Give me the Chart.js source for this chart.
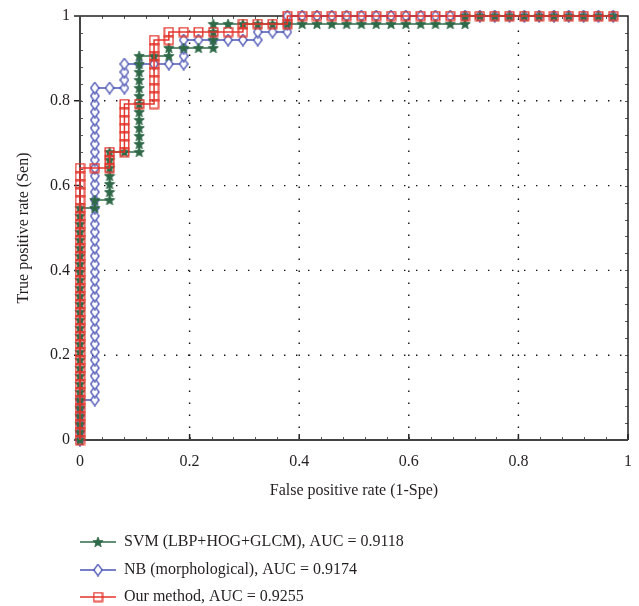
<!DOCTYPE html>
<html>
<head>
<meta charset="utf-8">
<script src="https://cdn.jsdelivr.net/npm/chart.js@4.4.1/dist/chart.umd.min.js"></script>
<style>
  html, body { margin: 0; padding: 0; background: #fff; }
  #wrap { width: 639px; height: 606px; }
</style>
</head>
<body>
<div id="wrap"><canvas id="roc" width="639" height="606"></canvas></div>
<script>
// ROC points as counts: false positives out of nNeg, true positives out of nPos
const nNeg = 37
const nPos = 53

const legendNames = ["SVM (LBP+HOG+GLCM), AUC = 0.9118",
                     "NB (morphological), AUC = 0.9174",
                     "Our method, AUC = 0.9255"]

const svmFp = [0,0,0,0,0, 0,0,0,0,0, 0,0,0,0,0, 0,0,0,0,0, 0,0,0,0,0, 0,0,0,0,0,
  1,1,2,2,2,2,2,2,2,3,4,
  4,4,4,4,4,4,4,4,4,4,4,4,
  5,6,6,7,8,9,9,9,9,
  10,11,12,13,14,15,16,17,18,19,20,21,22,23,24,25,26,26,
  27,28,29,30,31,32,33,34,35,36]
const svmTp = [0,1,2,3,4,5,6,7,8,9,10,11,12,13,14,15,16,17,18,19,20,21,22,23,24,25,26,27,28,29,
  29,30,30,31,32,33,34,35,36,36,36,
  37,38,39,40,41,42,43,44,45,46,47,48,
  48,48,49,49,49,49,50,51,52,
  52,52,52,52,52,52,52,52,52,52,52,52,52,52,52,52,52,53,
  53,53,53,53,53,53,53,53,53,53]

const nbFp = [0,0,0,0,0,0,
  1,1,1,1,1,1,1,1,1,1, 1,1,1,1,1,1,1,1,1,1, 1,1,1,1,1,1,1,1,1,1, 1,1,1,1,1,1,1,1,1,1,
  2,3,3,3,3,4,5,6,7,7,7,7,8,9,10,11,12,12,13,14,14,14,
  15,16,17,18,19,20,21,22,23,24,25,26,27,28,29,30,31,32,33,34,35,36]
const nbTp = [0,1,2,3,4,5,
  5,6,7,8,9,10,11,12,13,14,15,16,17,18,19,20,21,22,23,24,25,26,27,28,29,30,31,32,33,34,35,36,37,38,39,40,41,42,43,44,
  44,44,45,46,47,47,47,47,47,48,49,50,50,50,50,50,50,51,51,51,52,53,
  53,53,53,53,53,53,53,53,53,53,53,53,53,53,53,53,53,53,53,53,53,53]

const oursFp = [0,0,0,0,0, 0,0,0,0,0, 0,0,0,0,0, 0,0,0,0,0, 0,0,0,0,0, 0,0,0,0,0, 0,0,0,0,0,
  1,2,2,2,3,3,3,3,3,3,3,4,5,5,5,5,5,5,5,5,5,6,6,7,8,9,10,11,11,12,13,14,14,
  15,16,17,18,19,20,21,22,23,24,25,26,27,28,29,30,31,32,33,34,35,36]
const oursTp = [0,1,2,3,4,5,6,7,8,9,10,11,12,13,14,15,16,17,18,19,20,21,22,23,24,25,26,27,28,29,30,31,32,33,34,
  34,34,35,36,36,37,38,39,40,41,42,42,42,43,44,45,46,47,48,49,50,50,51,51,51,51,51,51,52,52,52,52,53,
  53,53,53,53,53,53,53,53,53,53,53,53,53,53,53,53,53,53,53,53,53,53]

const tickValues = [0, 0.2, 0.4, 0.6, 0.8, 1]
const tickLabels = ["0", "0.2", "0.4", "0.6", "0.8", "1"]

const green = "#2f6a48"
const blue = "#4b55b4"
const red = "#e3342b"
const serif = "'Liberation Serif', 'DejaVu Serif', serif"

function toPoints(fp, tp) {
    return fp.map((f, i) => ({ x: f / nNeg, y: tp[i] / nPos }))
}

// marker images
function starMarker() {
    const c = document.createElement("canvas")
    c.width = 12; c.height = 12
    const g = c.getContext("2d")
    g.beginPath()
    for (let i = 0; i < 10; i++) {
        const r = i % 2 === 0 ? 5.4 : 2.4
        const a = -Math.PI / 2 + i * Math.PI / 5
        const px = 6 + r * Math.cos(a), py = 6.4 + r * Math.sin(a)
        if (i === 0) g.moveTo(px, py); else g.lineTo(px, py)
    }
    g.closePath()
    g.fillStyle = green
    g.fill()
    g.strokeStyle = green
    g.lineWidth = 0.8
    g.stroke()
    return c
}
function diamondMarker() {
    const c = document.createElement("canvas")
    c.width = 10; c.height = 13
    const g = c.getContext("2d")
    g.beginPath()
    g.moveTo(5, 0.8); g.lineTo(9.2, 6.5); g.lineTo(5, 12.2); g.lineTo(0.8, 6.5)
    g.closePath()
    g.fillStyle = "#fff"
    g.fill()
    g.strokeStyle = blue
    g.lineWidth = 1.3
    g.stroke()
    return c
}
function squareMarker() {
    const c = document.createElement("canvas")
    c.width = 11; c.height = 11
    const g = c.getContext("2d")
    g.strokeStyle = red
    g.lineWidth = 1.4
    g.strokeRect(1.2, 1.2, 8.6, 8.6)
    return c
}
const markers = [starMarker(), diamondMarker(), squareMarker()]
const colors = [green, blue, red]

const framePlugin = {
    id: "frame",
    beforeDatasetsDraw(chart) {
        const { ctx, chartArea: a, scales: { x, y } } = chart
        ctx.save()
        // dotted grid
        ctx.strokeStyle = "#111"
        ctx.lineWidth = 1.4
        ctx.setLineDash([1.4, 10.6])
        for (const v of [0.2, 0.4, 0.6, 0.8]) {
            const px = x.getPixelForValue(v)
            ctx.beginPath(); ctx.moveTo(px, a.bottom); ctx.lineTo(px, a.top); ctx.stroke()
            const py = y.getPixelForValue(v)
            ctx.beginPath(); ctx.moveTo(a.left, py); ctx.lineTo(a.right, py); ctx.stroke()
        }
        ctx.setLineDash([])
        // minor ticks
        ctx.strokeStyle = "#555"
        ctx.lineWidth = 1
        for (let i = 1; i < 25; i++) {
            const v = i * 0.04
            const px = Math.round(x.getPixelForValue(v)) + 0.5
            const py = Math.round(y.getPixelForValue(v)) + 0.5
            ctx.beginPath()
            ctx.moveTo(px, a.bottom); ctx.lineTo(px, a.bottom - 3)
            ctx.moveTo(px, a.top); ctx.lineTo(px, a.top + 3)
            ctx.moveTo(a.left, py); ctx.lineTo(a.left + 3, py)
            ctx.moveTo(a.right, py); ctx.lineTo(a.right - 3, py)
            ctx.stroke()
        }
        // major ticks
        ctx.strokeStyle = "#222"
        ctx.lineWidth = 1.5
        for (const v of tickValues) {
            const px = x.getPixelForValue(v)
            const py = y.getPixelForValue(v)
            ctx.beginPath()
            ctx.moveTo(px, a.bottom); ctx.lineTo(px, a.bottom - 6)
            ctx.moveTo(a.left, py); ctx.lineTo(a.left - 6, py)
            ctx.stroke()
        }
        // box
        ctx.strokeStyle = "#222"
        ctx.lineWidth = 1.5
        ctx.beginPath()
        ctx.moveTo(a.left, a.top); ctx.lineTo(a.right, a.top); ctx.lineTo(a.right, a.bottom)
        ctx.stroke()
        ctx.strokeStyle = "#444"
        ctx.lineWidth = 2
        ctx.beginPath()
        ctx.moveTo(a.left, a.top); ctx.lineTo(a.left, a.bottom); ctx.lineTo(a.right, a.bottom)
        ctx.stroke()
        ctx.restore()
    },
    afterDraw(chart) {
        const ctx = chart.ctx
        const rows = [542, 570, 597]
        ctx.save()
        ctx.font = "16px " + serif
        ctx.textBaseline = "middle"
        ctx.fillStyle = "#231f20"
        legendNames.forEach((name, i) => {
            const yy = rows[i]
            ctx.strokeStyle = colors[i]
            ctx.lineWidth = 1.5
            ctx.beginPath(); ctx.moveTo(80, yy); ctx.lineTo(116, yy); ctx.stroke()
            const m = markers[i]
            ctx.drawImage(m, 98 - m.width / 2, yy - m.height / 2)
            ctx.fillText(name, 124, yy)
        })
        ctx.restore()
    }
}

const ctxRoc = document.getElementById("roc")

new Chart(ctxRoc, {
    type: "scatter",
    data: {
        datasets: [
            { label: legendNames[2], data: toPoints(oursFp, oursTp), borderColor: red, order: 1 },
            { label: legendNames[0], data: toPoints(svmFp, svmTp), borderColor: green, order: 2 },
            { label: legendNames[1], data: toPoints(nbFp, nbTp), borderColor: blue, order: 3 }
        ].map((d) => Object.assign(d, {
            showLine: true,
            borderWidth: 1.5,
            pointStyle: d.borderColor === red ? markers[2] : d.borderColor === green ? markers[0] : markers[1],
            pointRadius: 5,
            pointHoverRadius: 5,
            clip: false
        }))
    },
    options: {
        responsive: false,
        animation: false,
        events: [],
        layout: { padding: { left: 0, right: 11, top: 16, bottom: 100 } },
        plugins: { legend: { display: false }, tooltip: { enabled: false } },
        scales: {
            x: {
                type: "linear", min: 0, max: 1,
                grid: { display: false, drawTicks: false },
                border: { display: false },
                afterFit: (s) => { s.height = 66; s.paddingLeft = 0; s.paddingRight = 0 },
                afterBuildTicks: (s) => { s.ticks = tickValues.map((v) => ({ value: v })) },
                ticks: {
                    padding: 12, color: "#231f20",
                    font: { family: serif, size: 16 },
                    callback: (v) => tickLabels[tickValues.indexOf(v)]
                },
                title: {
                    display: true, text: "False positive rate (1-Spe)", color: "#231f20",
                    font: { family: serif, size: 16 }, padding: { top: 0, bottom: 6 }
                }
            },
            y: {
                type: "linear", min: 0, max: 1,
                grid: { display: false, drawTicks: false },
                border: { display: false },
                afterFit: (s) => { s.width = 80; s.paddingTop = 0; s.paddingBottom = 0 },
                afterBuildTicks: (s) => { s.ticks = tickValues.map((v) => ({ value: v })) },
                ticks: {
                    padding: 10, color: "#231f20",
                    font: { family: serif, size: 16 },
                    callback: (v) => tickLabels[tickValues.indexOf(v)]
                },
                title: {
                    display: true, text: "True positive rate (Sen)", color: "#231f20",
                    font: { family: serif, size: 16 }, padding: { top: 14, bottom: 0 }
                }
            }
        }
    },
    plugins: [framePlugin]
})
</script>
</body>
</html>
